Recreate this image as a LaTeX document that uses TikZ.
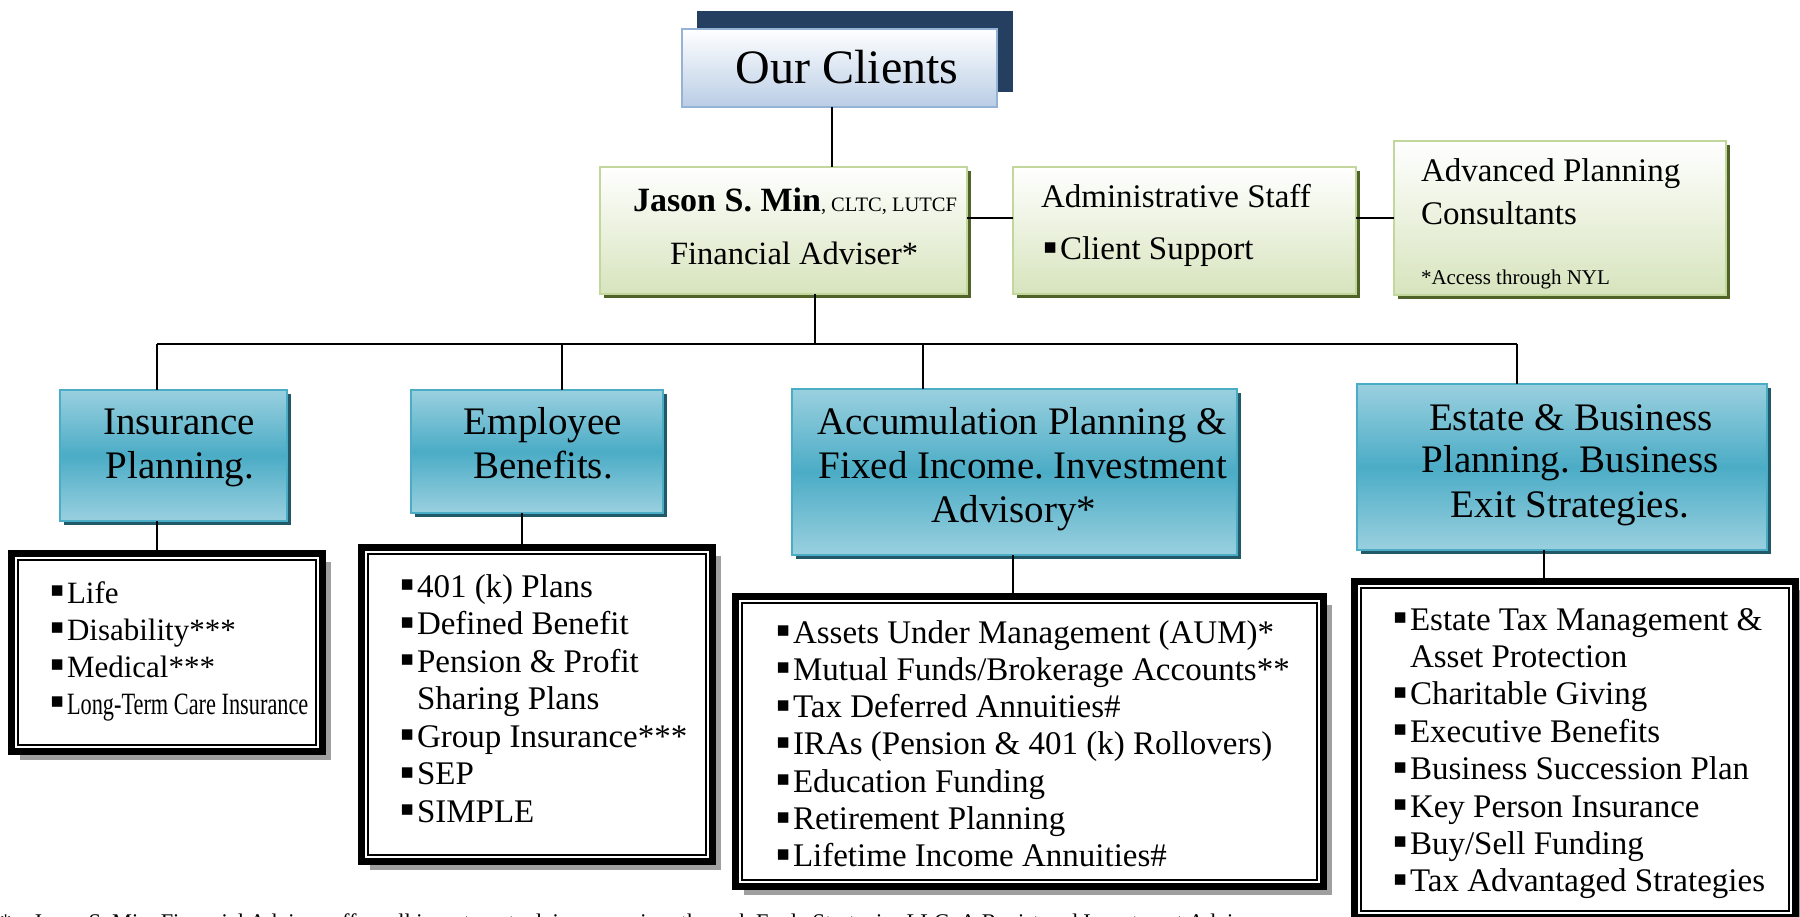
\documentclass[tikz,border=0pt]{standalone}
\usepackage{fontspec}
\setmainfont{Liberation Serif}
\newfontfamily\bulfont{DejaVu Sans}
\usetikzlibrary{shadows,fit}
\definecolor{navy}{HTML}{243F60}
\definecolor{ocborder}{HTML}{95B3D7}
\definecolor{ocbottom}{HTML}{B9CDE5}
\definecolor{grborder}{HTML}{C3D69B}
\definecolor{grbottom}{HTML}{D7E4BD}
\definecolor{grshadow}{HTML}{4F6228}
\definecolor{blborder}{HTML}{4BACC6}
\definecolor{bltop}{HTML}{9AD0DF}
\definecolor{blmid}{HTML}{4BACC6}
\definecolor{blshadow}{HTML}{215968}
\newcommand\fsz[1]{\fontsize{#1}{#1}\selectfont}
\newcommand\bul{\makebox[17pt][l]{\raisebox{6.5pt}{\bulfont\fontsize{21}{21}\selectfont ▪}}}
\newcommand\nob{\hspace*{17pt}}
\frenchspacing
\tikzset{
  fitbox/.style={rectangle, inner sep=0pt, outer sep=0pt},
  greenbox/.style={fitbox, draw=grborder, line width=2pt, top color=white, bottom color=grbottom,
     drop shadow={shadow xshift=4pt, shadow yshift=-4pt, fill=grshadow, opacity=1}},
  bluebox/.style={fitbox, draw=blborder, line width=2pt, top color=bltop, bottom color=bltop, middle color=blmid,
     drop shadow={shadow xshift=4pt, shadow yshift=-4pt, fill=blshadow, opacity=1}},
  listbox/.style={fitbox, draw=black, line width=7pt, fill=white,
     drop shadow={shadow xshift=8pt, shadow yshift=-8pt, fill=gray!75, opacity=1}},
  innerline/.style={draw=black, line width=2pt},
  conn/.style={draw=black, line width=1.6pt},
  txt/.style={inner sep=0pt, outer sep=0pt, anchor=base west, execute at begin node=\frenchspacing},
  ctxt/.style={inner sep=0pt, outer sep=0pt, anchor=base, execute at begin node=\frenchspacing},
}
\begin{document}
\begin{tikzpicture}[x=1pt,y=-1pt]
\useasboundingbox (0,0) rectangle (1800,917);
\clip (0,0) rectangle (1800,917);
\fill[white] (0,0) rectangle (1800,917);

% ---- top: Our Clients
\node[fitbox, fill=navy, fit={(697,11) (1013,92)}] (ocback) {};
\node[fitbox, draw=ocborder, line width=2pt, top color=white, bottom color=ocbottom, fit={(682,29) (997,107)}] (oc) {};
\node[ctxt] (ocT) at (847,84) {\fsz{48}Our Clients};

% ---- green boxes
\node[greenbox, fit={(600,167) (967,294)}] (jason) {};
\node[txt] (jasonT1) at (633,212) {\fsz{34}\textbf{Jason S. Min}\fsz{20.5}, CLTC, LUTCF};
\node[txt] (jasonT2) at (670,265) {\fsz{32.5}Financial Adviser*};

\node[greenbox, fit={(1013,167) (1356,294)}] (admin) {};
\node[txt] (adminT1) at (1041,208) {\fsz{33}Administrative Staff};
\node[txt] (adminT2) at (1043,260) {\fsz{33}\bul Client Support};

\node[greenbox, fit={(1394,141) (1726,295)}] (adv) {};
\node[txt] (advT1) at (1421,182) {\fsz{33}Advanced Planning};
\node[txt] (advT2) at (1421,225) {\fsz{33}Consultants};
\node[txt] (advT3) at (1421,285) {\fsz{21}*Access through NYL};

% ---- blue boxes
\node[bluebox, fit={(60,390) (287,521)}] (ins) {};
\node[ctxt] (insT1) at (179,435) {\fsz{39}Insurance};
\node[ctxt] (insT2) at (180,478) {\fsz{39}Planning.};

\node[bluebox, fit={(411,390) (663,513)}] (emp) {};
\node[ctxt] (empT1) at (543,435) {\fsz{39}Employee};
\node[ctxt] (empT2) at (543,478) {\fsz{39}Benefits.};

\node[bluebox, fit={(792,389) (1237,555)}] (acc) {};
\node[ctxt] (accT1) at (1022,435) {\fsz{39}Accumulation Planning \&};
\node[ctxt] (accT2) at (1023,478) {\fsz{39}Fixed Income. Investment};
\node[ctxt] (accT3) at (1014,522) {\fsz{39}Advisory*};

\node[bluebox, fit={(1357,384) (1767,550)}] (est) {};
\node[ctxt] (estT1) at (1571,430) {\fsz{39}Estate \& Business};
\node[ctxt] (estT2) at (1570,472) {\fsz{39}Planning. Business};
\node[ctxt] (estT3) at (1570,517) {\fsz{39}Exit Strategies.};

% ---- list boxes
\node[listbox, fit={(11.5,553.5) (322.5,751.5)}] (insL) {};
\draw[innerline] ([shift={(6.5,6.5)}]insL.north west) rectangle ([shift={(-6.5,-6.5)}]insL.south east);
\node[listbox, fit={(361.5,547.5) (712.5,861.5)}] (empL) {};
\draw[innerline] ([shift={(6.5,6.5)}]empL.north west) rectangle ([shift={(-6.5,-6.5)}]empL.south east);
\node[listbox, fit={(735.5,596.5) (1323.5,886.5)}] (accL) {};
\draw[innerline] ([shift={(6.5,6.5)}]accL.north west) rectangle ([shift={(-6.5,-6.5)}]accL.south east);
\node[listbox, fit={(1354.5,581.5) (1795.5,917.5)}] (estL) {};
\draw[innerline] ([shift={(6.5,6.5)}]estL.north west) rectangle ([shift={(-6.5,-6.5)}]estL.south east);

\foreach \t [count=\i from 0] in {\bul Life, \bul Disability***, \bul Medical***,
    {\bul\scalebox{0.72}[1]{Long-Term Care Insurance}}}
  \node[txt] (insI\i) at (50,603+37*\i) {\fsz{31}\t};

\foreach \t [count=\i from 0] in {\bul 401 (k) Plans, \bul Defined Benefit, \bul Pension \& Profit,
    \nob Sharing Plans, \bul Group Insurance***, \bul SEP, \bul SIMPLE}
  \node[txt] (empI\i) at (400,597+37.5*\i) {\fsz{33}\t};

\foreach \t [count=\i from 0] in {\bul Assets Under Management (AUM)*, \bul Mutual Funds/Brokerage Accounts**,
    \bul Tax Deferred Annuities\#, \bul IRAs (Pension \& 401 (k) Rollovers), \bul Education Funding,
    \bul Retirement Planning, \bul Lifetime Income Annuities\#}
  \node[txt] (accI\i) at (776,643+37.3*\i) {\fsz{33}\t};

\foreach \t [count=\i from 0] in {\bul Estate Tax Management \&, \nob Asset Protection, \bul Charitable Giving,
    \bul Executive Benefits, \bul Business Succession Plan, \bul Key Person Insurance,
    \bul Buy/Sell Funding, \bul Tax Advantaged Strategies}
  \node[txt] (estI\i) at (1393,630+37.4*\i) {\fsz{33}\t};

% ---- connectors
\draw[conn] ([xshift=-7.5pt]oc.south) -- ([xshift=-7.5pt]oc.south |- jason.north);
\draw[conn] ([yshift=12.5pt]jason.east) -- ([yshift=12.5pt]jason.east -| admin.west);
\draw[conn] ([yshift=12.5pt]admin.east) -- ([yshift=12.5pt]admin.east -| adv.west);

\coordinate (bus1) at (157,344);
\coordinate (bus2) at (562,344);
\coordinate (bus3) at (923,344);
\coordinate (bus4) at (1517,344);
\draw[conn] ([xshift=31.5pt]jason.south) -- ([xshift=31.5pt]jason.south |- bus1);
\draw[conn] (bus1) -- (bus4);
\draw[conn] (bus1) -- (bus1 |- ins.north);
\draw[conn] (bus2) -- (bus2 |- emp.north);
\draw[conn] (bus3) -- (bus3 |- acc.north);
\draw[conn] (bus4) -- (bus4 |- est.north);

\coordinate (lx1) at (157,530);
\coordinate (lx2) at (522,530);
\coordinate (lx3) at (1013,530);
\coordinate (lx4) at (1544,530);
\draw[conn] (lx1 |- ins.south) -- (lx1 |- insL.north);
\draw[conn] (lx2 |- emp.south) -- (lx2 |- empL.north);
\draw[conn] (lx3 |- acc.south) -- (lx3 |- accL.north);
\draw[conn] (lx4 |- est.south) -- (lx4 |- estL.north);

% ---- footnote (cut by the page edge, as in the reference)
\node[txt] (foot) at (0,929) {\fsz{22.4}*\hspace{22pt}Jason S. Min, Financial Adviser, offers all investment advisory services through Eagle Strategies LLC, A Registered Investment Adviser};
\end{tikzpicture}
\end{document}
